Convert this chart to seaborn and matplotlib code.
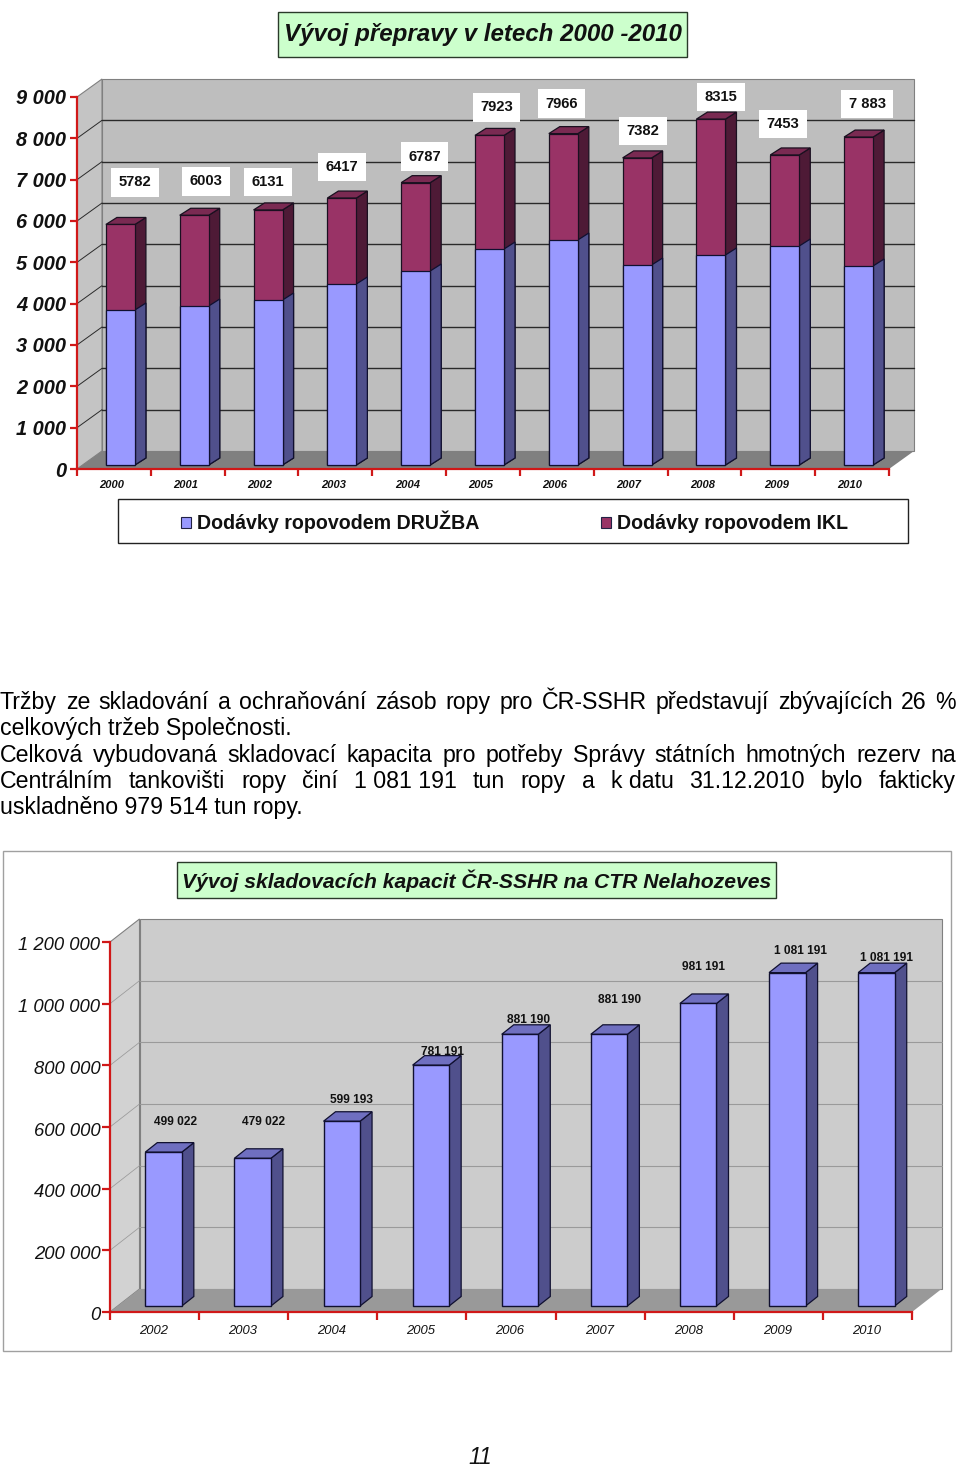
import matplotlib
matplotlib.use("Agg")
import matplotlib.pyplot as plt
import seaborn as sns
from matplotlib.patches import Patch, Polygon, Rectangle
from matplotlib.transforms import Affine2D

W, H = 960, 1468

# First chart data
years_top = ["2000", "2001", "2002", "2003", "2004", "2005", "2006", "2007", "2008", "2009", "2010"]
druzba = [3726, 3822, 3966, 4351, 4663, 5192, 5409, 4808, 5048, 5264, 4784]
totals_top = [5782, 6003, 6131, 6417, 6787, 7923, 7966, 7382, 8315, 7453, 7883]
labels_top = ["5782", "6003", "6131", "6417", "6787", "7923", "7966", "7382", "8315", "7453", "7 883"]
label_dx_top = [14.5, 12, 0, 0, 9, 7, -2, 6, 10, -2, 8.5]
label_dy_top = [42, 34, 28, 31, 26, 28, 30, 27, 22, 31, 33]
yticks_top = [0, 1000, 2000, 3000, 4000, 5000, 6000, 7000, 8000, 9000]
yticklabels_top = ["0", "1 000", "2 000", "3 000", "4 000", "5 000", "6 000", "7 000", "8 000", "9 000"]

# Second chart data
years_bottom = ["2002", "2003", "2004", "2005", "2006", "2007", "2008", "2009", "2010"]
capacity = [499022, 479022, 599193, 781191, 881190, 881190, 981191, 1081191, 1081191]
labels_bottom = ["499 022", "479 022", "599 193", "781 191", "881 190", "881 190", "981 191", "1 081 191", "1 081 191"]
label_dx_bottom = [12.5, 10.4, 10, 12, 9, 10, 5, 13, 10]
label_dy_bottom = [30, 36, 21, 13, 14, 34, 36, 22, 15]
yticks_bottom = [0, 200000, 400000, 600000, 800000, 1000000, 1200000]
yticklabels_bottom = ["0", "200 000", "400 000", "600 000", "800 000", "1 000 000", "1 200 000"]

paragraph = [
    ("Tržby ze skladování a ochraňování zásob ropy pro ČR-SSHR představují zbývajících 26 %", True),
    ("celkových tržeb Společnosti.", False),
    ("Celková vybudovaná skladovací kapacita pro potřeby Správy státních hmotných rezerv na", True),
    ("Centrálním tankovišti ropy činí 1\u00a0081\u00a0191 tun ropy a k\u00a0datu 31.12.2010 bylo fakticky", True),
    ("uskladněno 979 514 tun ropy.", False),
]

sns.set_theme(style="white")
plt.rcParams["font.family"] = "Liberation Sans"

fig = plt.figure(figsize=(W / 100, H / 100), dpi=100, facecolor="white")
overlay = fig.add_axes([0, 0, 1, 1])
overlay.set_xlim(0, W)
overlay.set_ylim(H, 0)
overlay.axis("off")

RED = "#D01818"


def px_axes(left, top, right, bottom):
    return fig.add_axes([left / W, 1 - bottom / H, (right - left) / W, (bottom - top) / H])


def nudge(labels, dx, dy):
    # move tick labels a few pixels (y up in display space)
    for lab in labels:
        lab.set_transform(lab.get_transform() + Affine2D().translate(dx, dy))


def draw_walls(ax, cats, yticks, ymax, dx, dy, wall, side, floor, grid, grid_lw):
    x0, x1 = -0.5, len(cats) - 0.5
    ax.set_xlim(x0, x1)
    ax.set_ylim(0, ymax)
    ax.patch.set_visible(False)
    ax.add_patch(Polygon([(x0 + dx, dy), (x1 + dx, dy), (x1 + dx, ymax + dy), (x0 + dx, ymax + dy)],
                         fc=wall, ec="#808080", lw=0.8, clip_on=False, zorder=1))
    ax.add_patch(Polygon([(x0, 0), (x0 + dx, dy), (x0 + dx, ymax + dy), (x0, ymax)],
                         fc=side, ec="#808080", lw=0.8, clip_on=False, zorder=1))
    ax.add_patch(Polygon([(x0, 0), (x0 + dx, dy), (x1 + dx, dy), (x1, 0)],
                         fc=floor, ec="none", clip_on=False, zorder=1))
    for t in yticks[1:-1]:
        ax.plot([x0, x0 + dx], [t, t + dy], color=grid, lw=grid_lw * 0.7, clip_on=False, zorder=2)
        ax.plot([x0 + dx, x1 + dx], [t + dy, t + dy], color=grid, lw=grid_lw, clip_on=False, zorder=2)
    for s in ["top", "right"]:
        ax.spines[s].set_visible(False)
    for s in ["left", "bottom"]:
        ax.spines[s].set_color(RED)
        ax.spines[s].set_linewidth(1.6)
        ax.spines[s].set_zorder(5)


def draw_bars_3d(ax, bars, dx, dy, side, top=None, edge="#101030"):
    # extrude the seaborn bars backwards
    for b in bars:
        b.set_clip_on(False)
        l, r = b.get_x(), b.get_x() + b.get_width()
        y0, y1 = b.get_y(), b.get_y() + b.get_height()
        ax.add_patch(Polygon([(r, y0), (r + dx, y0 + dy), (r + dx, y1 + dy), (r, y1)],
                             fc=side, ec=edge, lw=0.9, clip_on=False, zorder=3))
        if top is not None:
            ax.add_patch(Polygon([(l, y1), (l + dx, y1 + dy), (r + dx, y1 + dy), (r, y1)],
                                 fc=top, ec=edge, lw=0.9, clip_on=False, zorder=3))


def title_box(x0, y0, x1, y1, text, size):
    overlay.add_patch(Rectangle((x0, y0), x1 - x0, y1 - y0, fc="#CCFFCC", ec="#2A3A2A", lw=1))
    overlay.text((x0 + x1) / 2, (y0 + y1) / 2 + 0.5, text, ha="center", va="center", fontsize=size,
                 style="italic", weight="bold", color="#111111")


# ---- top chart
title_box(278, 12, 687, 57, "Vývoj přepravy v letech 2000 -2010", 17.4)

back = px_axes(77, 97, 889, 469)
d_x, d_y = 25 / 73.8, 18 / 41.33
draw_walls(back, years_top, yticks_top, 9000, d_x, d_y * 1000, "#BEBEBE", "#C4C4C4", "#808080", "#2A2A2A", 1.0)
back.set_xticks(range(len(years_top)))
back.set_xticklabels(years_top, fontsize=8, weight="bold", style="italic", color="#111111")
back.tick_params(axis="x", which="major", length=0, pad=8)
back.set_xticks([i - 0.5 for i in range(len(years_top) + 1)], minor=True)
back.tick_params(axis="x", which="minor", bottom=True, length=5, width=1.6, color=RED)
back.set_yticks(yticks_top)
back.set_yticklabels(yticklabels_top, fontsize=14.4, weight="bold", style="italic", color="#111111")
back.tick_params(axis="y", left=True, length=5, width=1.6, color=RED, pad=3)
nudge(back.get_xticklabels(), -2, 0)

front = px_axes(83.5, 465 - 41.6 * 9, 895.5, 465)
front.patch.set_visible(False)
sns.barplot(x=years_top, y=totals_top, color="#993366", saturation=1, width=0.393,
            edgecolor="#1A1020", linewidth=0.9, ax=front, zorder=4)
total_bars = list(front.patches)
sns.barplot(x=years_top, y=druzba, color="#9999FF", saturation=1, width=0.393,
            edgecolor="#101030", linewidth=0.9, ax=front, zorder=4)
druzba_bars = list(front.patches)[len(total_bars):]
front.set_xlim(-0.5, len(years_top) - 0.5)
front.set_ylim(0, 9000)
front.axis("off")
bar_dx, bar_dy = 11 / 73.8, 7 / 41.6 * 1000
draw_bars_3d(front, total_bars, bar_dx, bar_dy, "#4E1A36", "#7A2A52", edge="#1A1020")
draw_bars_3d(front, druzba_bars, bar_dx, bar_dy, "#50508C")
for i, v in enumerate(totals_top):
    front.annotate(labels_top[i], (i, v), xytext=(label_dx_top[i], label_dy_top[i]),
                   textcoords="offset pixels", ha="center", va="center", fontsize=10.6, weight="bold",
                   color="#111111", zorder=6, annotation_clip=False,
                   bbox=dict(boxstyle="square,pad=0.5", fc="white", ec="none"))

# legend frame and entries
overlay.add_patch(Rectangle((118, 499), 790, 44, fc="white", ec="#222222", lw=1))
handles = [Patch(fc="#9999FF", ec="#222244", lw=0.8, label="Dodávky ropovodem DRUŽBA"),
           Patch(fc="#993366", ec="#222244", lw=0.8, label="Dodávky ropovodem IKL")]
overlay.legend(handles=handles, ncol=2, frameon=False, loc="center left", bbox_to_anchor=(181 / W, 1 - 522 / H),
               bbox_transform=fig.transFigure, borderpad=0, borderaxespad=0, handlelength=0.52, handleheight=0.52,
               handletextpad=0.3, columnspacing=6.2, prop=dict(family="Liberation Sans", weight="bold", size=14.1),
               labelcolor="#111111")

# ---- paragraph, justified to the page width
renderer = fig.canvas.get_renderer()
for line_no, (line, justify) in enumerate(paragraph):
    y = 702.5 + line_no * 26.3
    if not justify:
        overlay.text(0, y, line, fontsize=16.7, va="center", ha="left", color="black")
        continue
    words = [overlay.text(0, y, w, fontsize=16.7, va="center", ha="left", color="black") for w in line.split(" ")]
    widths = [t.get_window_extent(renderer).width for t in words]
    gap = (956 - sum(widths)) / (len(words) - 1)
    pos = 0
    for t, w in zip(words, widths):
        t.set_x(pos)
        pos += w + gap

# ---- bottom chart
overlay.add_patch(Rectangle((3, 851), 948, 500, fc="white", ec="#A0A0A0", lw=1, zorder=0))
title_box(177, 862, 776, 898, "Vývoj skladovacích kapacit ČR-SSHR na CTR Nelahozeves", 15.25)

back2 = px_axes(110, 942, 912, 1312)
d2_x, d2_y = 29.5 / 89.1, 23 / 370 * 1200000
draw_walls(back2, years_bottom, yticks_bottom, 1200000, d2_x, d2_y, "#CCCCCC", "#D2D2D2", "#999999", "#9A9A9A", 0.8)
back2.set_xticks(range(len(years_bottom)))
back2.set_xticklabels(years_bottom, fontsize=9.4, style="italic", color="#111111")
back2.tick_params(axis="x", which="major", length=0, pad=9.5)
back2.set_xticks([i - 0.5 for i in range(len(years_bottom) + 1)], minor=True)
back2.tick_params(axis="x", which="minor", bottom=True, length=6, width=1.6, color=RED)
back2.set_yticks(yticks_bottom)
back2.set_yticklabels(yticklabels_bottom, fontsize=13.3, style="italic", color="#111111")
back2.tick_params(axis="y", left=True, length=6, width=1.6, color=RED, pad=1)
nudge(back2.get_xticklabels(), -1, 0)
nudge(back2.get_yticklabels(), 0, -2)

front2 = px_axes(119, 936, 921, 1306)
front2.patch.set_visible(False)
sns.barplot(x=years_bottom, y=capacity, color="#9999FF", saturation=1, width=0.41,
            edgecolor="#101030", linewidth=1.0, ax=front2, zorder=4)
front2.set_xlim(-0.5, len(years_bottom) - 0.5)
front2.set_ylim(0, 1200000)
front2.axis("off")
draw_bars_3d(front2, list(front2.patches), 12 / 89.1, 9.5 / 370 * 1200000, "#50508C", "#6F6FC0")
for i, v in enumerate(capacity):
    front2.annotate(labels_bottom[i], (i, v), xytext=(label_dx_bottom[i], label_dy_bottom[i]),
                    textcoords="offset pixels", ha="center", va="center", fontsize=8.6, weight="bold",
                    color="#111111", zorder=6, annotation_clip=False)

overlay.text(480, 1457.5, "11", ha="center", va="center", fontsize=16.5, style="italic", color="#111111")

fig.savefig("out.png", dpi=100)
